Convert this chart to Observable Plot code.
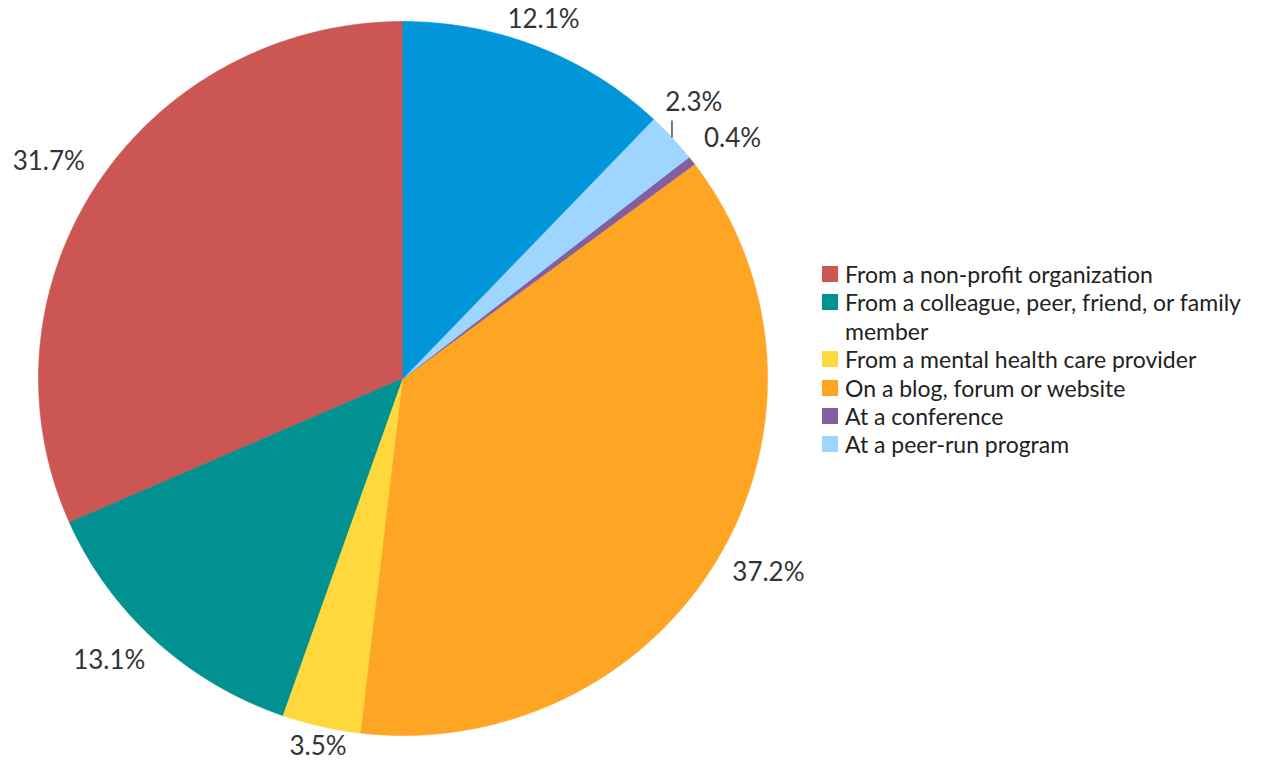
<!DOCTYPE html>
<html>
<head>
<meta charset="utf-8">
<script src="https://cdn.jsdelivr.net/npm/d3@7"></script>
<script src="https://cdn.jsdelivr.net/npm/@observablehq/plot@0.6"></script>
<style>
  html, body { margin: 0; padding: 0; background: #fff; }
  #wrap { position: relative; width: 1267px; height: 761px; overflow: hidden; }
  #legend { position: absolute; left: 822px; top: 260px; width: 440px;
    font-family: Lato, "Open Sans", sans-serif; font-size: 23px; color: #222; line-height: 28.4px; }
  .row { display: flex; align-items: flex-start; }
  .sw { flex: 0 0 16px; width: 16px; height: 16px; margin-top: 6px; margin-right: 7px; }
  .lab { flex: 1 1 auto; }
</style>
</head>
<body>
<div id="wrap"><div id="chart"></div><div id="legend"></div></div>
<script>
// ---- data (drawn counter-clockwise from 12 o'clock) ----
const categories = [
  "From a non-profit organization",
  "From a colleague, peer, friend, or family member",
  "From a mental health care provider",
  "On a blog, forum or website",
  "At a conference",
  "At a peer-run program",
  "Other"
];
const shares = [31.7, 13.1, 3.5, 37.2, 0.4, 2.3, 12.1];
const labels = ["31.7%", "13.1%", "3.5%", "37.2%", "0.4%", "2.3%", "12.1%"];
const colors = ["#cb5653", "#009190", "#ffd83d", "#ffa524", "#845f9f", "#9ed6ff", "#0096d9"];
const legendCategories = categories.slice(0, 6);

// ---- geometry from d3.pie ----
const arcs = d3.pie().sort(null).value(d => d.v).startAngle(0).endAngle(-2 * Math.PI)(
  categories.map((c, i) => ({c, v: shares[i], label: labels[i]}))
);
const slicePts = [];
for (const a of arcs) {
  const n = Math.max(2, Math.ceil(Math.abs(a.endAngle - a.startAngle) / 0.01));
  slicePts.push({c: a.data.c, x: 0, y: 0});
  for (let k = 0; k <= n; k++) {
    const t = a.startAngle + (a.endAngle - a.startAngle) * k / n;
    slicePts.push({c: a.data.c, x: Math.sin(t), y: Math.cos(t)});
  }
}
const LR = 1.042;
const lifted = new Set(["At a peer-run program"]);
const lab = arcs.map(a => {
  const m = (a.startAngle + a.endAngle) / 2;
  const s = Math.sin(m), co = Math.cos(m);
  return {
    c: a.data.c, text: a.data.label, sx: s, sy: co,
    x: LR * s, y: LR * co,
    ta: s > 0.5 ? "start" : s < -0.5 ? "end" : "middle",
    la: co > 0.45 ? "bottom" : co < -0.45 ? "top" : "middle",
    edge: co < -0.95
  };
});
const vshift = {top: -1, middle: 0, bottom: -5};
const textMarks = [];
const font = {fontSize: 26, fill: "#333", fontFamily: "Lato, sans-serif"};
for (const ta of ["start", "middle", "end"]) for (const la of ["top", "middle", "bottom"]) {
  const normal = lab.filter(d => d.ta === ta && d.la === la && !lifted.has(d.c) && !d.edge);
  if (normal.length) textMarks.push(Plot.text(normal, {x: "x", y: "y", text: "text", textAnchor: ta, lineAnchor: la,
    dy: vshift[la], ...font}));
  const edge = lab.filter(d => d.ta === ta && d.la === la && !lifted.has(d.c) && d.edge);
  if (edge.length) textMarks.push(Plot.text(edge, {x: "x", y: "y", text: "text", textAnchor: ta, lineAnchor: la,
    dy: vshift[la] - 4, ...font}));
  const up = lab.filter(d => d.ta === ta && d.la === la && lifted.has(d.c));
  if (up.length) textMarks.push(Plot.text(up, {x: "x", y: "y", text: "text", textAnchor: ta, lineAnchor: la,
    dx: -18, dy: -16, ...font}));
}
const leader = lab.filter(d => lifted.has(d.c)).map(d => ({x: d.sx, y1: d.sy, y2: d.sy + 17 / 357}));

const chart = Plot.plot({
  width: 1267, height: 761, margin: 0,
  x: {domain: [-1, 1], range: [38, 767], axis: null},
  y: {domain: [-1, 1], range: [735, 21], axis: null},
  color: {domain: categories, range: colors},
  style: {background: "transparent"},
  marks: [
    Plot.line(slicePts, {x: "x", y: "y", z: "c", fill: "c", stroke: "c", strokeWidth: 0.6, curve: "linear-closed"}),
    Plot.link(leader, {x1: "x", x2: "x", y1: "y1", y2: "y2", stroke: "#333", strokeWidth: 1.3}),
    ...textMarks
  ]
});
document.getElementById("chart").appendChild(chart);

const legend = document.getElementById("legend");
legendCategories.forEach((c, i) => {
  const row = document.createElement("div");
  row.className = "row";
  row.innerHTML = `<div class="sw" style="background:${colors[categories.indexOf(c)]}"></div><div class="lab">${c}</div>`;
  legend.appendChild(row);
});
</script>
</body>
</html>
